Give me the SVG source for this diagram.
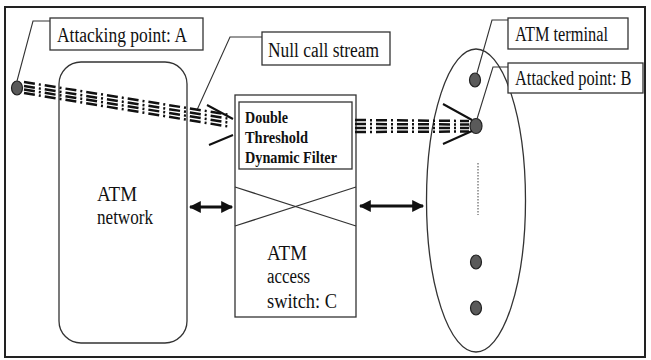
<svg xmlns="http://www.w3.org/2000/svg" width="651" height="360" viewBox="0 0 651 360">
  <style>
    .frame { fill: #fff; stroke: #222; stroke-width: 2; }
    .box { fill: #fff; stroke: #333; stroke-width: 1.3; }
    .lbl { font-family: "Liberation Serif", "Times New Roman", serif; font-size: 20px; fill: #111; }
    .bold { font-family: "Liberation Serif", "Times New Roman", serif; font-size: 16px; font-weight: bold; fill: #111; }
    .leader { fill: none; stroke: #333; stroke-width: 1.1; }
    .stream { fill: none; stroke: #111; stroke-width: 2.5; stroke-dasharray: 11 4 2 4; }
    .funnel { fill: none; stroke: #111; stroke-width: 2; }
    .dot { fill: #5a5a5a; stroke: #222; stroke-width: 1.2; }
    .link { fill: none; stroke: #111; stroke-width: 3; marker-start: url(#head); marker-end: url(#head); }
  </style>
  <defs>
    <marker id="head" viewBox="0 0 10 10" refX="9" refY="5" markerWidth="4.2" markerHeight="4" orient="auto-start-reverse" markerUnits="strokeWidth">
      <path d="M0,0 L10,5 L0,10 Z" fill="#111"/>
    </marker>
  </defs>

  <rect class="frame" x="5" y="7" width="640" height="350"/>

  <!-- ATM network cloud -->
  <g id="atm-network">
    <rect class="box" x="59" y="62" width="128" height="281" rx="22"/>
    <text class="lbl" x="97" y="201" textLength="40" lengthAdjust="spacingAndGlyphs">ATM</text>
    <text class="lbl" x="97" y="224" textLength="56" lengthAdjust="spacingAndGlyphs">network</text>
  </g>

  <!-- Access switch with filter -->
  <g id="access-switch">
    <rect class="box" x="235" y="95" width="121" height="222"/>
    <path class="box" d="M235,187 L356,226 M235,226 L356,187" fill="none"/>
    <text class="lbl" x="267" y="260" textLength="40" lengthAdjust="spacingAndGlyphs">ATM</text>
    <text class="lbl" x="267" y="283" textLength="43" lengthAdjust="spacingAndGlyphs">access</text>
    <text class="lbl" x="267" y="308" textLength="70" lengthAdjust="spacingAndGlyphs">switch: C</text>
  </g>
  <g id="filter">
    <rect class="box" x="239" y="102" width="113" height="67"/>
    <text class="bold" x="245" y="123" textLength="43" lengthAdjust="spacingAndGlyphs">Double</text>
    <text class="bold" x="245" y="143" textLength="63" lengthAdjust="spacingAndGlyphs">Threshold</text>
    <text class="bold" x="245" y="163" textLength="92" lengthAdjust="spacingAndGlyphs">Dynamic Filter</text>
  </g>

  <!-- Terminal group -->
  <g id="terminals">
    <ellipse class="box" cx="476" cy="200.5" rx="49.5" ry="151.5"/>
    <line x1="478" y1="163" x2="478" y2="215" stroke="#444" stroke-width="1" stroke-dasharray="1.5 1.5"/>
    <ellipse class="dot" cx="476" cy="262" rx="5.5" ry="7"/>
    <ellipse class="dot" cx="476" cy="308" rx="5.5" ry="7"/>
  </g>
  <g id="terminal-a">
    <ellipse class="dot" cx="475" cy="80" rx="5.5" ry="7"/>
  </g>
  <g id="point-a">
    <ellipse class="dot" cx="17" cy="88" rx="5.5" ry="7"/>
  </g>
  <g id="point-b">
    <ellipse class="dot" cx="476" cy="126" rx="6" ry="7.5"/>
  </g>

  <!-- Labels -->
  <g id="label-a">
    <rect class="box" x="50" y="18" width="153" height="32"/>
    <text class="lbl" x="57" y="42" textLength="130" lengthAdjust="spacingAndGlyphs">Attacking point: A</text>
  </g>
  <g id="label-stream">
    <rect class="box" x="262" y="32" width="128" height="33"/>
    <text class="lbl" x="268" y="57" textLength="111" lengthAdjust="spacingAndGlyphs">Null call stream</text>
  </g>
  <g id="label-terminal">
    <rect class="box" x="508" y="18" width="120" height="31"/>
    <text class="lbl" x="515" y="41" textLength="93" lengthAdjust="spacingAndGlyphs">ATM terminal</text>
  </g>
  <g id="label-b">
    <rect class="box" x="508" y="63" width="135" height="30"/>
    <text class="lbl" transform="translate(515,85) scale(0.82,1)" x="0" y="0">Attacked point: B</text>
  </g>

  <!-- Connectors -->
  <g id="connectors">
    <path class="leader" d="M50,21 L33,21 L17,81"/>
    <path class="leader" d="M262,37 L230,37 L197,110"/>
    <path class="leader" d="M508,20 L492,20 L477,73"/>
    <path class="leader" d="M508,67 L493,67 L477,119"/>

    <!-- call stream A to filter -->
    <line class="stream" x1="24" y1="82" x2="231" y2="115"/>
    <line class="stream" x1="24" y1="86" x2="231" y2="119"/>
    <line class="stream" x1="24" y1="89.5" x2="231" y2="123"/>
    <line class="stream" x1="24" y1="93" x2="231" y2="127"/>
    <path class="funnel" d="M207,105 L233,119 M209,145 L233,135"/>

    <!-- call stream filter to B -->
    <line class="stream" x1="355" y1="120" x2="469" y2="121"/>
    <line class="stream" x1="355" y1="124" x2="469" y2="124.5"/>
    <line class="stream" x1="355" y1="128" x2="469" y2="128"/>
    <line class="stream" x1="355" y1="132" x2="469" y2="131.5"/>
    <path class="funnel" d="M443,104 L472,120 M443,144 L472,131"/>

    <!-- bidirectional links -->
    <line class="link" x1="190" y1="207" x2="232" y2="207"/>
    <line class="link" x1="360" y1="206" x2="423" y2="206"/>
  </g>
</svg>
